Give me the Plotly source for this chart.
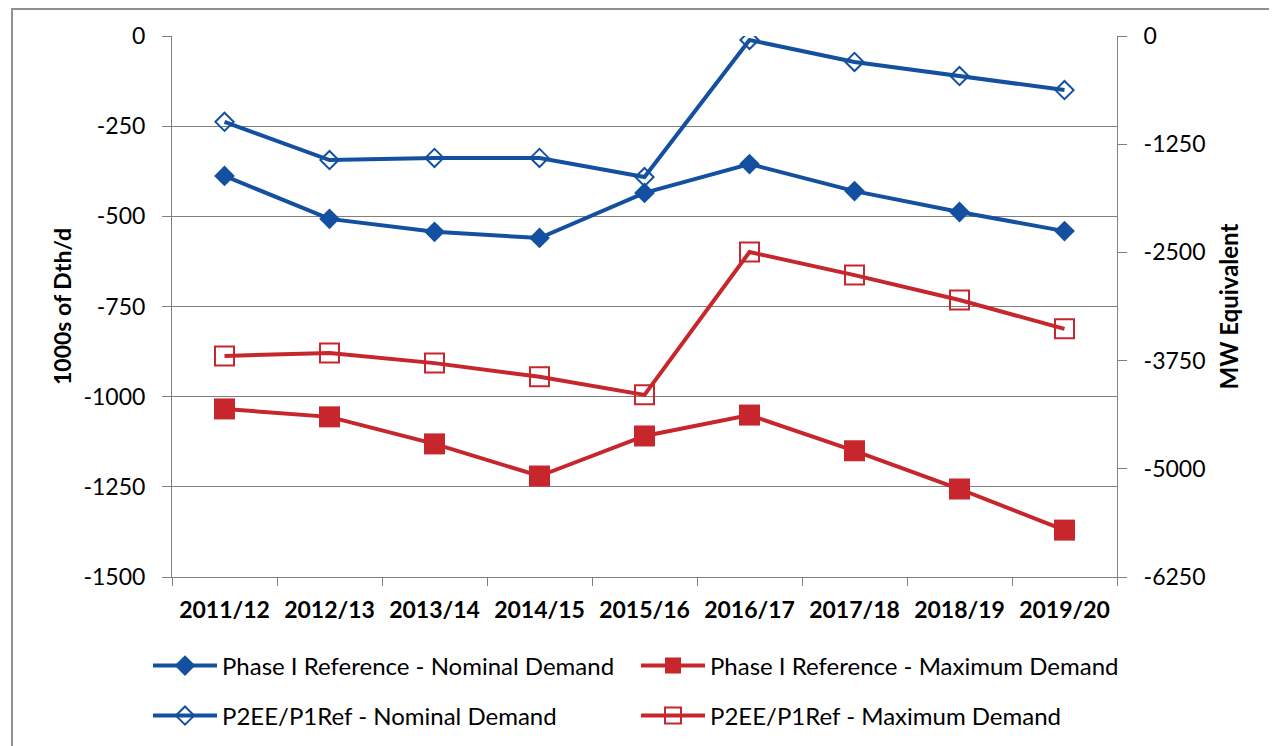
import plotly.graph_objects as go

categories = ["2011/12", "2012/13", "2013/14", "2014/15", "2015/16", "2016/17", "2017/18", "2018/19", "2019/20"]
p1_nominal = [-388, -507, -543, -560, -435, -355, -430, -488, -541]
p1_maximum = [-1034, -1056, -1131, -1220, -1109, -1051, -1150, -1256, -1370]
p2_nominal = [-238, -344, -338, -338, -391, -11, -72, -111, -150]
p2_maximum = [-887, -879, -907, -945, -995, -599, -663, -732, -812]

left_ticks = [0, -250, -500, -750, -1000, -1250, -1500]
right_ticks = [0, -1250, -2500, -3750, -5000, -6250]
MW_PER_KDTH = 6250 / 1500  # right axis scale relative to left

BLUE = "#1450A0"
RED = "#C6262C"
FONT = "Lato"

# page has an 8px body margin; lay out in screenshot pixels and compensate
OFF = 8
W, H = 1277 - OFF, 746 - OFF
L, T = 172 - OFF, 36 - OFF
R = W - (1117 - OFF)
B = H - (577 - OFF)
pw, ph = W - L - R, H - T - B

def px_x(x):
    return (x - OFF - L) / pw

def px_y(y):
    return (H - B - (y - OFF)) / ph

fig = go.Figure()
fig.add_trace(go.Scatter(x=categories, y=p1_nominal, name="Phase I Reference - Nominal Demand",
                         mode="lines+markers", line=dict(color=BLUE, width=4),
                         marker=dict(symbol="diamond", size=16, color=BLUE), legend="legend"))
fig.add_trace(go.Scatter(x=categories, y=p1_maximum, name="Phase I Reference - Maximum Demand",
                         mode="lines+markers", line=dict(color=RED, width=4),
                         marker=dict(symbol="square", size=21, color=RED), legend="legend2"))
fig.add_trace(go.Scatter(x=categories, y=p2_nominal, name="P2EE/P1Ref - Nominal Demand",
                         mode="lines+markers", line=dict(color=BLUE, width=4),
                         marker=dict(symbol="diamond-open", size=14, color=BLUE, line=dict(width=2)), legend="legend3"))
fig.add_trace(go.Scatter(x=categories, y=p2_maximum, name="P2EE/P1Ref - Maximum Demand",
                         mode="lines+markers", line=dict(color=RED, width=4),
                         marker=dict(symbol="square-open", size=19, color=RED, line=dict(width=2)), legend="legend4"))
# invisible trace on the secondary (MW) axis so that it gets drawn
fig.add_trace(go.Scatter(x=categories, y=[v * MW_PER_KDTH for v in p1_nominal], yaxis="y2",
                         mode="lines", line=dict(width=0, color="rgba(0,0,0,0)"), showlegend=False,
                         hoverinfo="skip"))

axis_grey = "#808080"
leg_common = dict(orientation="h", xanchor="left", yanchor="middle", itemwidth=64,
                  font=dict(size=24, family=FONT), bgcolor="rgba(0,0,0,0)")

fig.update_layout(
    width=W, height=H,
    margin=dict(l=L, r=R, t=T, b=B, autoexpand=False),
    paper_bgcolor="white", plot_bgcolor="white",
    font=dict(family=FONT, size=23, color="black"),
    xaxis=dict(type="category", showgrid=False, showline=True, linecolor=axis_grey, linewidth=1,
               ticks="outside", tickson="boundaries", ticklen=8, tickcolor=axis_grey,
               ticklabelstandoff=12,
               tickfont=dict(size=23, family=FONT, weight="bold"), range=[-0.5, 8.5]),
    yaxis=dict(range=[-1500, 0], tickvals=left_ticks, ticktext=[str(v) for v in left_ticks],
               showgrid=True, gridcolor=axis_grey, gridwidth=1, showline=True, linecolor=axis_grey,
               ticks="outside", ticklen=9, tickcolor=axis_grey, zeroline=False, ticklabelstandoff=12,
               tickfont=dict(size=23), title=dict(text="<b>1000s of Dth/d</b>", font=dict(size=23), standoff=5)),
    yaxis2=dict(range=[-6250, 0], tickvals=right_ticks, ticktext=[str(v) for v in right_ticks],
                overlaying="y", side="right", anchor="x", showgrid=False, showline=True, linecolor=axis_grey,
                ticks="outside", ticklen=9, tickcolor=axis_grey, zeroline=False, ticklabelstandoff=12,
                tickfont=dict(size=23), title=dict(text="<b>MW Equivalent</b>", font=dict(size=24), standoff=16)),
    legend=dict(x=px_x(148), y=px_y(666), **leg_common),
    legend2=dict(x=px_x(636), y=px_y(666), **leg_common),
    legend3=dict(x=px_x(148), y=px_y(716), **leg_common),
    legend4=dict(x=px_x(636), y=px_y(716), **leg_common),
    shapes=[dict(type="rect", xref="paper", yref="paper",
                 x0=px_x(12), x1=px_x(1272), y0=px_y(770), y1=px_y(9),
                 line=dict(color="#909090", width=2), fillcolor="rgba(0,0,0,0)", layer="below")],
    showlegend=True,
)

fig.write_html("out.html")
